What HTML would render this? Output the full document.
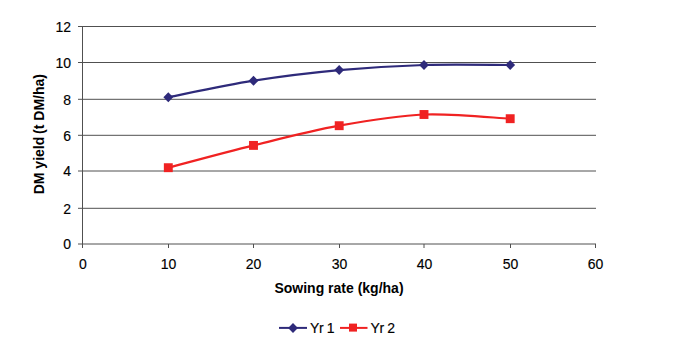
<!DOCTYPE html>
<html><head><meta charset="utf-8">
<style>
html,body{margin:0;padding:0;background:#fff;width:675px;height:347px;overflow:hidden}
svg{display:block}
text{font-family:"Liberation Sans",sans-serif;fill:#000;stroke:#000;stroke-width:0.15px}
.b{stroke-width:0}
</style></head><body>
<svg width="675" height="347" viewBox="0 0 675 347">
<g stroke="#505050" stroke-width="1" fill="none">
<path d="M78,26.5H596M78,62.5H596M78,99.3H596M78,135.3H596M78,171H596M78,208.3H596M78,244H596"/>
<path d="M82.5,26V248M168.5,244V248M253.5,244V248M339.5,244V248M424,244V248M510.5,244V248M595.5,244V248"/>
</g>
<g font-size="14" text-anchor="end">
<text x="71" y="31.5">12</text>
<text x="71" y="67.5">10</text>
<text x="71" y="104.5">8</text>
<text x="71" y="140.5">6</text>
<text x="71" y="175.5">4</text>
<text x="71" y="213.5">2</text>
<text x="71" y="248.5">0</text>
</g>
<g font-size="14" text-anchor="middle">
<text x="83" y="269">0</text>
<text x="168.5" y="269">10</text>
<text x="253.5" y="269">20</text>
<text x="339.5" y="269">30</text>
<text x="424.5" y="269">40</text>
<text x="510.5" y="269">50</text>
<text x="595.5" y="269">60</text>
</g>
<text x="339" y="292.5" font-size="14" font-weight="bold" class="b" text-anchor="middle">Sowing rate (kg/ha)</text>
<text transform="translate(44,194.3) rotate(-90)" font-size="14" font-weight="bold" class="b">DM yield</text>
<text transform="translate(44,74) rotate(-90)" font-size="14" font-weight="bold" class="b" text-anchor="end">(t DM/ha)</text>
<path fill="none" stroke="#2E2A7A" stroke-width="2.2" d="M168.30,97.20 C182.50,94.45 225.02,85.22 253.50,80.70 C281.98,76.18 310.78,72.72 339.20,70.10 C367.62,67.48 395.50,65.85 424.00,65.00 C452.50,64.15 495.83,65.00 510.20,65.00"/>
<path fill="none" stroke="#F02222" stroke-width="2.2" d="M168.30,167.70 C182.50,163.98 225.02,152.40 253.50,145.40 C281.98,138.40 310.78,130.85 339.20,125.70 C367.62,120.55 395.50,115.67 424.00,114.50 C452.50,113.33 495.83,118.00 510.20,118.70"/>
<g fill="#2E2A7A">
<path d="M168.30,92.20L173.20,97.20L168.30,102.20L163.40,97.20Z"/>
<path d="M253.50,75.70L258.40,80.70L253.50,85.70L248.60,80.70Z"/>
<path d="M339.20,65.10L344.10,70.10L339.20,75.10L334.30,70.10Z"/>
<path d="M424.00,60.00L428.90,65.00L424.00,70.00L419.10,65.00Z"/>
<path d="M510.20,60.00L515.10,65.00L510.20,70.00L505.30,65.00Z"/>
</g>
<g fill="#F02222">
<rect x="163.85" y="163.25" width="8.9" height="8.9"/>
<rect x="249.05" y="140.95" width="8.9" height="8.9"/>
<rect x="334.75" y="121.25" width="8.9" height="8.9"/>
<rect x="419.55" y="110.05" width="8.9" height="8.9"/>
<rect x="505.75" y="114.25" width="8.9" height="8.9"/>
</g>
<path stroke="#2E2A7A" stroke-width="2" d="M279,327.9H307"/>
<path fill="#2E2A7A" d="M293.00,322.90L297.90,327.90L293.00,332.90L288.10,327.90Z"/>
<text x="310" y="332.5" font-size="14" letter-spacing="-0.4">Yr 1</text>
<path stroke="#F02222" stroke-width="2" d="M340,327.9H367.5"/>
<rect x="349.00" y="323.60" width="8" height="8" fill="#F02222"/>
<text x="370.5" y="332.5" font-size="14" letter-spacing="-0.4">Yr 2</text>
</svg>
</body></html>
